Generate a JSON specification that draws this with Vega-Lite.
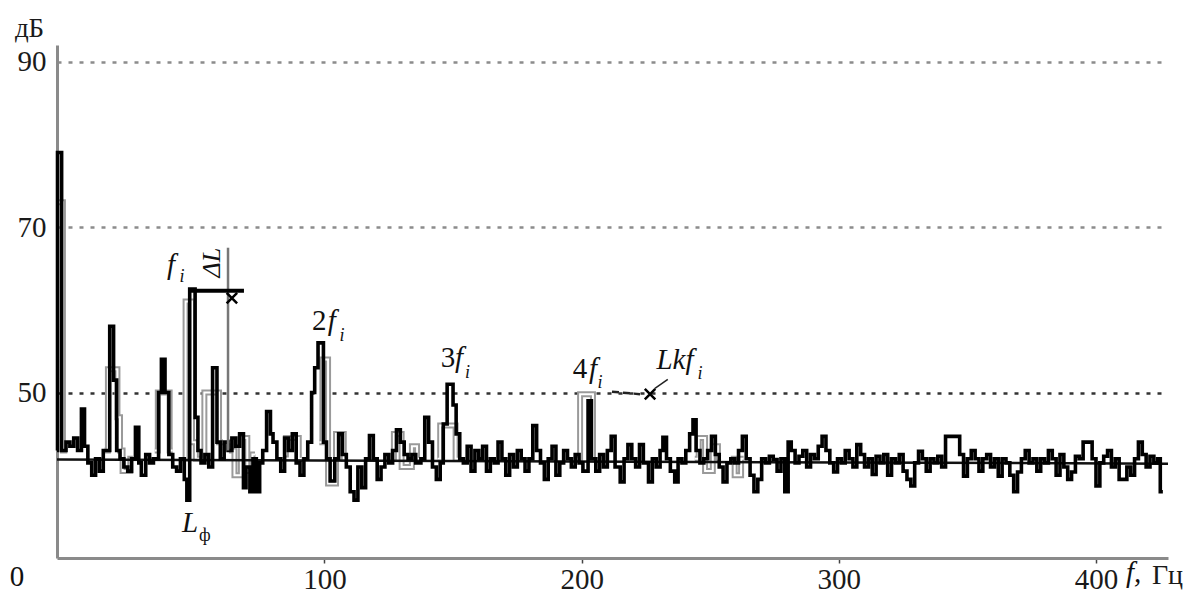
{
  "$schema": "https://vega.github.io/schema/vega-lite/v6.json",
  "width": 1111,
  "height": 513,
  "autosize": "none",
  "padding": {"left": 57, "top": 45, "right": 20, "bottom": 36},
  "background": "white",
  "config": {
    "view": {"stroke": null},
    "font": "Liberation Serif"
  },
  "datasets": {
    "black": [
      {"f": -4, "L": 43}, {"f": -3.8, "L": 79}, {"f": -2.2, "L": 43}, {"f": -0.5, "L": 44}, {"f": 1, "L": 43.5},
      {"f": 2.5, "L": 44.5}, {"f": 4, "L": 43}, {"f": 5.5, "L": 48}, {"f": 6.7, "L": 43.5}, {"f": 8, "L": 41.5},
      {"f": 9.5, "L": 40}, {"f": 11, "L": 42}, {"f": 12.5, "L": 40.5}, {"f": 14, "L": 43}, {"f": 16.5, "L": 58},
      {"f": 18, "L": 51.5}, {"f": 19.2, "L": 43}, {"f": 20.5, "L": 42}, {"f": 22, "L": 41}, {"f": 23.5, "L": 40.5},
      {"f": 25, "L": 42}, {"f": 26.5, "L": 45.8}, {"f": 27.8, "L": 41.5}, {"f": 28.8, "L": 40}, {"f": 30.5, "L": 42.5},
      {"f": 32, "L": 41.5}, {"f": 33.5, "L": 42}, {"f": 35.5, "L": 50}, {"f": 36.6, "L": 54}, {"f": 38, "L": 50},
      {"f": 39.5, "L": 42.5}, {"f": 41, "L": 41}, {"f": 42.5, "L": 40.5}, {"f": 44, "L": 42}, {"f": 45.5, "L": 39.5},
      {"f": 46.5, "L": 37}, {"f": 47.6, "L": 62.5}, {"f": 49.7, "L": 47}, {"f": 50.8, "L": 43}, {"f": 52, "L": 41.5},
      {"f": 53.5, "L": 42.5}, {"f": 55, "L": 41}, {"f": 56.5, "L": 53}, {"f": 58.2, "L": 44}, {"f": 59.5, "L": 42},
      {"f": 61, "L": 44}, {"f": 62.5, "L": 43}, {"f": 64, "L": 44.5}, {"f": 65.5, "L": 43.5}, {"f": 67, "L": 45},
      {"f": 68.5, "L": 38.5}, {"f": 69.5, "L": 41}, {"f": 71, "L": 38}, {"f": 72.2, "L": 42}, {"f": 73.5, "L": 38},
      {"f": 74.8, "L": 41.5}, {"f": 76, "L": 43}, {"f": 77.5, "L": 47.7}, {"f": 79, "L": 45}, {"f": 80, "L": 44},
      {"f": 81.5, "L": 42}, {"f": 83, "L": 40.5}, {"f": 84.5, "L": 44.5}, {"f": 86, "L": 43}, {"f": 87.5, "L": 45},
      {"f": 89, "L": 41.5}, {"f": 90.5, "L": 40}, {"f": 92, "L": 42}, {"f": 93.5, "L": 44}, {"f": 95, "L": 50},
      {"f": 96.2, "L": 53}, {"f": 97.5, "L": 56}, {"f": 99.6, "L": 44}, {"f": 100.8, "L": 42}, {"f": 102.2, "L": 39.3},
      {"f": 104, "L": 42}, {"f": 105.5, "L": 45}, {"f": 107, "L": 42.5}, {"f": 108.5, "L": 41}, {"f": 110, "L": 38},
      {"f": 111.5, "L": 37}, {"f": 113, "L": 41}, {"f": 114.5, "L": 38.5}, {"f": 116, "L": 42}, {"f": 117.5, "L": 44.8},
      {"f": 119, "L": 42}, {"f": 120.5, "L": 39.5}, {"f": 122, "L": 41}, {"f": 123.5, "L": 42.5}, {"f": 125, "L": 41.5},
      {"f": 126.5, "L": 43}, {"f": 128, "L": 45.5}, {"f": 129.5, "L": 44}, {"f": 131, "L": 42.5}, {"f": 132.5, "L": 42},
      {"f": 134, "L": 42.5}, {"f": 135.5, "L": 41.5}, {"f": 137.5, "L": 42}, {"f": 139, "L": 47}, {"f": 140.5, "L": 44},
      {"f": 142, "L": 41}, {"f": 143.5, "L": 39.5}, {"f": 145, "L": 41.5}, {"f": 146.2, "L": 46.2}, {"f": 147.7, "L": 51},
      {"f": 150, "L": 48.5}, {"f": 151.2, "L": 45}, {"f": 152.6, "L": 42}, {"f": 154, "L": 41.5}, {"f": 155.5, "L": 43.5},
      {"f": 157, "L": 40.5}, {"f": 158.5, "L": 43}, {"f": 160, "L": 42}, {"f": 161.5, "L": 43.5}, {"f": 163, "L": 40.5},
      {"f": 164.5, "L": 42}, {"f": 166, "L": 41.5}, {"f": 167.5, "L": 44}, {"f": 169, "L": 42}, {"f": 170.5, "L": 40},
      {"f": 172, "L": 42.5}, {"f": 173.5, "L": 41}, {"f": 175, "L": 43}, {"f": 176.5, "L": 42}, {"f": 178, "L": 40.5},
      {"f": 179.5, "L": 42}, {"f": 181, "L": 46}, {"f": 182.5, "L": 43}, {"f": 184, "L": 41.5}, {"f": 185.5, "L": 39.5},
      {"f": 187, "L": 42}, {"f": 188.5, "L": 43.5}, {"f": 190, "L": 40}, {"f": 191.5, "L": 41.5}, {"f": 193, "L": 43},
      {"f": 194.5, "L": 42}, {"f": 196, "L": 41}, {"f": 197.5, "L": 42.5}, {"f": 199, "L": 41.5}, {"f": 200.5, "L": 40.5},
      {"f": 202.5, "L": 49}, {"f": 203.8, "L": 42}, {"f": 205.5, "L": 40.5}, {"f": 207, "L": 42.5}, {"f": 208.5, "L": 41},
      {"f": 210, "L": 43}, {"f": 211.5, "L": 44.7}, {"f": 213, "L": 41}, {"f": 215, "L": 39.2}, {"f": 216.5, "L": 42},
      {"f": 218, "L": 43.7}, {"f": 219.5, "L": 42}, {"f": 221, "L": 41}, {"f": 222.5, "L": 43.7}, {"f": 224, "L": 41.5},
      {"f": 226, "L": 39.2}, {"f": 227.5, "L": 42}, {"f": 229, "L": 41}, {"f": 230.5, "L": 43}, {"f": 231.6, "L": 44.6},
      {"f": 233, "L": 42}, {"f": 234.5, "L": 40.5}, {"f": 236.2, "L": 39.2}, {"f": 237.5, "L": 42}, {"f": 239, "L": 41.5},
      {"f": 240.5, "L": 43}, {"f": 242, "L": 45}, {"f": 243.3, "L": 46.7}, {"f": 244.5, "L": 43}, {"f": 246, "L": 41.5},
      {"f": 247.5, "L": 42}, {"f": 249, "L": 43}, {"f": 250.5, "L": 44.7}, {"f": 252, "L": 42.5}, {"f": 253.5, "L": 41},
      {"f": 255, "L": 39.2}, {"f": 256.5, "L": 41.5}, {"f": 258, "L": 42}, {"f": 259.5, "L": 41.5}, {"f": 261, "L": 43},
      {"f": 262.5, "L": 44.7}, {"f": 264, "L": 42}, {"f": 265.5, "L": 40}, {"f": 267, "L": 38}, {"f": 268.5, "L": 39.5},
      {"f": 270, "L": 42}, {"f": 271.5, "L": 41.5}, {"f": 273, "L": 42.3}, {"f": 274.5, "L": 41.9}, {"f": 276, "L": 40.5},
      {"f": 277.5, "L": 42}, {"f": 279, "L": 38}, {"f": 280.3, "L": 44}, {"f": 281.5, "L": 43}, {"f": 283, "L": 41.5},
      {"f": 284.5, "L": 42.3}, {"f": 286, "L": 43}, {"f": 287.5, "L": 41}, {"f": 289, "L": 42.5}, {"f": 290.5, "L": 42},
      {"f": 292, "L": 43.5}, {"f": 293.5, "L": 44.7}, {"f": 295, "L": 43}, {"f": 296.5, "L": 41.5}, {"f": 298, "L": 40.4},
      {"f": 299.5, "L": 42}, {"f": 301, "L": 41.5}, {"f": 302.5, "L": 43}, {"f": 304, "L": 42}, {"f": 305.5, "L": 41},
      {"f": 307, "L": 43.7}, {"f": 308.5, "L": 42.5}, {"f": 310, "L": 41}, {"f": 311.5, "L": 42}, {"f": 313, "L": 40.1},
      {"f": 314.5, "L": 42.3}, {"f": 316, "L": 41.5}, {"f": 317.5, "L": 42.5}, {"f": 319, "L": 40}, {"f": 320.5, "L": 42},
      {"f": 322, "L": 41.5}, {"f": 323.5, "L": 42.5}, {"f": 325, "L": 40.5}, {"f": 326.5, "L": 39.5}, {"f": 328, "L": 38.7},
      {"f": 329.5, "L": 41.5}, {"f": 331, "L": 42.9}, {"f": 332.5, "L": 42}, {"f": 334, "L": 40.5}, {"f": 335.5, "L": 42},
      {"f": 337, "L": 41.5}, {"f": 338.5, "L": 42.3}, {"f": 340, "L": 41}, {"f": 341.5, "L": 44.7}, {"f": 347, "L": 42.5},
      {"f": 348.5, "L": 39.9}, {"f": 350, "L": 42}, {"f": 351.5, "L": 43}, {"f": 353, "L": 42}, {"f": 354.5, "L": 40.5},
      {"f": 356, "L": 42}, {"f": 357.5, "L": 42.5}, {"f": 359, "L": 41}, {"f": 360.5, "L": 42}, {"f": 362, "L": 39.9},
      {"f": 363.5, "L": 42}, {"f": 365, "L": 41.5}, {"f": 366.5, "L": 40}, {"f": 368, "L": 38}, {"f": 369.5, "L": 40.4},
      {"f": 371, "L": 42}, {"f": 372.5, "L": 43}, {"f": 374, "L": 41.5}, {"f": 375.5, "L": 42}, {"f": 377, "L": 40.5},
      {"f": 378.5, "L": 42}, {"f": 380, "L": 41.5}, {"f": 381.5, "L": 43}, {"f": 383, "L": 42}, {"f": 384.5, "L": 40},
      {"f": 386, "L": 42.5}, {"f": 387.5, "L": 41}, {"f": 389, "L": 39.5}, {"f": 390.5, "L": 40.4}, {"f": 392, "L": 42.3},
      {"f": 393.5, "L": 42}, {"f": 395, "L": 44}, {"f": 398.5, "L": 42}, {"f": 400, "L": 38.7}, {"f": 401.5, "L": 41.5},
      {"f": 403, "L": 42.3}, {"f": 404.5, "L": 43}, {"f": 406, "L": 41}, {"f": 407.5, "L": 42}, {"f": 409, "L": 39.5},
      {"f": 410.5, "L": 39.5}, {"f": 412, "L": 41}, {"f": 413.5, "L": 40}, {"f": 415, "L": 42}, {"f": 416.5, "L": 44},
      {"f": 418, "L": 42.5}, {"f": 419.5, "L": 41}, {"f": 421, "L": 42.3}, {"f": 422.5, "L": 41.5}, {"f": 424, "L": 42},
      {"f": 425, "L": 38}, {"f": 426, "L": 38}
    ],
    "grey": [
      {"s": 1, "f": -4, "L": 73}, {"s": 1, "f": -1.7, "L": 43}, {"s": 1, "f": 0, "L": 43},
      {"s": 2, "f": 14.5, "L": 43}, {"s": 2, "f": 15.8, "L": 52.8}, {"s": 2, "f": 19.5, "L": 47}, {"s": 2, "f": 20.5, "L": 43}, {"s": 2, "f": 21.5, "L": 40.5}, {"s": 2, "f": 24.5, "L": 42}, {"s": 2, "f": 25.5, "L": 42},
      {"s": 3, "f": 34, "L": 43}, {"s": 3, "f": 35.2, "L": 50}, {"s": 3, "f": 39.8, "L": 43}, {"s": 3, "f": 41, "L": 43},
      {"s": 4, "f": 45, "L": 42}, {"s": 4, "f": 46, "L": 61}, {"s": 4, "f": 48.5, "L": 44}, {"s": 4, "f": 50, "L": 42}, {"s": 4, "f": 53.3, "L": 50}, {"s": 4, "f": 59, "L": 44}, {"s": 4, "f": 60.5, "L": 44},
      {"s": 5, "f": 62.8, "L": 44}, {"s": 5, "f": 64, "L": 43}, {"s": 5, "f": 65, "L": 40}, {"s": 5, "f": 67.5, "L": 44.5}, {"s": 5, "f": 70, "L": 40.5}, {"s": 5, "f": 72, "L": 42.5}, {"s": 5, "f": 73, "L": 42.5},
      {"s": 6, "f": 84, "L": 42.5}, {"s": 6, "f": 85, "L": 44.5}, {"s": 6, "f": 90, "L": 42}, {"s": 6, "f": 91, "L": 42},
      {"s": 7, "f": 98, "L": 44}, {"s": 7, "f": 99.2, "L": 54}, {"s": 7, "f": 101.4, "L": 39}, {"s": 7, "f": 104.5, "L": 45}, {"s": 7, "f": 107.5, "L": 42}, {"s": 7, "f": 108.5, "L": 42},
      {"s": 8, "f": 126, "L": 42}, {"s": 8, "f": 127, "L": 45}, {"s": 8, "f": 130, "L": 41}, {"s": 8, "f": 134, "L": 43.5}, {"s": 8, "f": 136, "L": 42}, {"s": 8, "f": 137, "L": 42},
      {"s": 9, "f": 144, "L": 42}, {"s": 9, "f": 145, "L": 46}, {"s": 9, "f": 151, "L": 42}, {"s": 9, "f": 152, "L": 42},
      {"s": 10, "f": 198, "L": 42}, {"s": 10, "f": 199.4, "L": 49.8}, {"s": 10, "f": 204.4, "L": 42}, {"s": 10, "f": 205.5, "L": 42},
      {"s": 11, "f": 244, "L": 42}, {"s": 11, "f": 245.5, "L": 44.5}, {"s": 11, "f": 248, "L": 40.5}, {"s": 11, "f": 251, "L": 43.5}, {"s": 11, "f": 253, "L": 42}, {"s": 11, "f": 254, "L": 42},
      {"s": 12, "f": 258, "L": 42}, {"s": 12, "f": 259.5, "L": 40}, {"s": 12, "f": 262, "L": 42}, {"s": 12, "f": 263, "L": 42}
    ]
  },
  "encoding": {
    "x": {
      "field": "f", "type": "quantitative",
      "scale": {"domain": [-4, 428], "nice": false, "zero": false},
      "axis": {
        "values": [100, 200, 300, 400],
        "grid": false,
        "domainColor": "#8a8a8a", "domainWidth": 3,
        "tickColor": "#444", "tickWidth": 1.5, "tickSize": 5,
        "labelFontSize": 29, "labelColor": "#1a1a1a", "labelPadding": 2,
        "labelFont": "Liberation Serif",
        "title": "Гц", "titleFont": "Liberation Serif", "titleFontSize": 28, "titleFontWeight": "normal",
        "titleColor": "#1a1a1a", "titleX": 1110, "titleY": 25, "titleAlign": "center", "titleBaseline": "alphabetic"
      }
    },
    "y": {
      "field": "L", "type": "quantitative",
      "scale": {"domain": [30, 92], "nice": false, "zero": false},
      "axis": {
        "values": [50, 70, 90],
        "grid": true,
        "gridDash": [4, 7],
        "gridWidth": 2.5,
        "gridColor": {"condition": {"test": "datum.value === 50", "value": "#333"}, "value": "#8c8c8c"},
        "ticks": false,
        "domainColor": "#8a8a8a", "domainWidth": 3,
        "labelFontSize": 29, "labelColor": "#1a1a1a", "labelPadding": 11,
        "labelFont": "Liberation Serif",
        "title": "дБ", "titleFont": "Liberation Serif", "titleFontSize": 27, "titleFontWeight": "normal",
        "titleColor": "#1a1a1a", "titleAngle": 0, "titleX": -28, "titleY": -9, "titleAlign": "center", "titleBaseline": "alphabetic"
      }
    }
  },
  "layer": [
    {
      "data": {"name": "grey"},
      "mark": {"type": "line", "interpolate": "step-after", "color": "#9a9a9a", "strokeWidth": 6, "strokeJoin": "miter"},
      "encoding": {"detail": {"field": "s"}}
    },
    {
      "data": {"name": "grey"},
      "mark": {"type": "line", "interpolate": "step-after", "color": "#ffffff", "strokeWidth": 2, "strokeJoin": "miter"},
      "encoding": {"detail": {"field": "s"}}
    },
    {
      "data": {"values": [{"f": -4, "L": 41.9}, {"f": 428, "L": 41.4}]},
      "mark": {"type": "line", "color": "#111", "strokeWidth": 2.5},
      "encoding": {}
    },
    {
      "data": {"name": "black"},
      "mark": {"type": "line", "interpolate": "step-after", "color": "#000", "strokeWidth": 3.6, "strokeJoin": "miter"},
      "encoding": {}
    },
    {
      "data": {"values": [{"f": 62.5, "L": 67.5, "f2": 62.5, "L2": 43}]},
      "mark": {"type": "rule", "color": "#777", "strokeWidth": 2.5},
      "encoding": {"x2": {"field": "f2"}, "y2": {"field": "L2"}}
    },
    {
      "data": {"values": [{"f": 47, "L": 62.3, "f2": 68.7, "L2": 62.3}]},
      "mark": {"type": "rule", "color": "#000", "strokeWidth": 4},
      "encoding": {"x2": {"field": "f2"}, "y2": {"field": "L2"}}
    },
    {
      "data": {"values": [{"f": 228.5, "L": 50.5, "f2": 233.5, "L2": 51.6}]},
      "mark": {"type": "rule", "color": "#222", "strokeWidth": 1.5},
      "encoding": {"x2": {"field": "f2"}, "y2": {"field": "L2"}}
    },
    {
      "data": {"values": [{"f": 211.8, "L": 50.1, "f2": 222.7, "L2": 49.8}]},
      "mark": {"type": "rule", "color": "#222", "strokeWidth": 2.5, "strokeDash": [7, 4]},
      "encoding": {"x2": {"field": "f2"}, "y2": {"field": "L2"}}
    },
    {
      "data": {"values": [{"f": 64, "L": 61.4}, {"f": 226.6, "L": 49.8}]},
      "mark": {"type": "point", "shape": "M-1,-1L1,1M-1,1L1,-1", "filled": false, "color": "#000", "strokeWidth": 2.5, "size": 110, "opacity": 1},
      "encoding": {}
    },
    {
      "data": {"values": [{"f": 98.0, "L": 57.6, "t": "2"}, {"f": 148.0, "L": 53.1, "t": "3"}, {"f": 199.4, "L": 51.8, "t": "4"}, {"f": -19.55, "L": 26.6, "t": "0"}]},
      "mark": {"type": "text", "font": "Liberation Serif", "fontSize": 29, "color": "#111", "baseline": "alphabetic", "align": "center"},
      "encoding": {"text": {"field": "t"}}
    },
    {
      "data": {"values": [{"f": 40.3, "L": 64.3, "t": "f"}, {"f": 102.8, "L": 57.6, "t": "f"}, {"f": 152.3, "L": 53.1, "t": "f"}, {"f": 204.4, "L": 51.8, "t": "f"}, {"f": 236.3, "L": 52.8, "t": "Lkf"}, {"f": 47.7, "L": 33.2, "t": "L"}, {"f": 414.6, "L": 27.1, "t": "f,"}]},
      "mark": {"type": "text", "font": "Liberation Serif", "fontStyle": "italic", "fontSize": 29, "color": "#111", "baseline": "alphabetic", "align": "center"},
      "encoding": {"text": {"field": "t"}}
    },
    {
      "data": {"values": [{"f": 44.6, "L": 63.4, "t": "i"}, {"f": 106.8, "L": 56.2, "t": "i"}, {"f": 155.6, "L": 51.8, "t": "i"}, {"f": 207.1, "L": 50.6, "t": "i"}, {"f": 246.0, "L": 51.6, "t": "i"}]},
      "mark": {"type": "text", "font": "Liberation Serif", "fontStyle": "italic", "fontSize": 18, "color": "#111", "baseline": "alphabetic", "align": "center"},
      "encoding": {"text": {"field": "t"}}
    },
    {
      "data": {"values": [{"f": 53.5, "L": 32.0, "t": "ф"}]},
      "mark": {"type": "text", "font": "Liberation Serif", "fontSize": 18, "color": "#111", "baseline": "alphabetic", "align": "center"},
      "encoding": {"text": {"field": "t"}}
    },
    {
      "data": {"values": [{"f": 56.3, "L": 65.7, "t": "ΔL"}]},
      "mark": {"type": "text", "font": "Liberation Serif", "fontStyle": "italic", "fontSize": 26, "color": "#111", "baseline": "middle", "align": "center", "angle": 270},
      "encoding": {"text": {"field": "t"}}
    }
  ]
}
